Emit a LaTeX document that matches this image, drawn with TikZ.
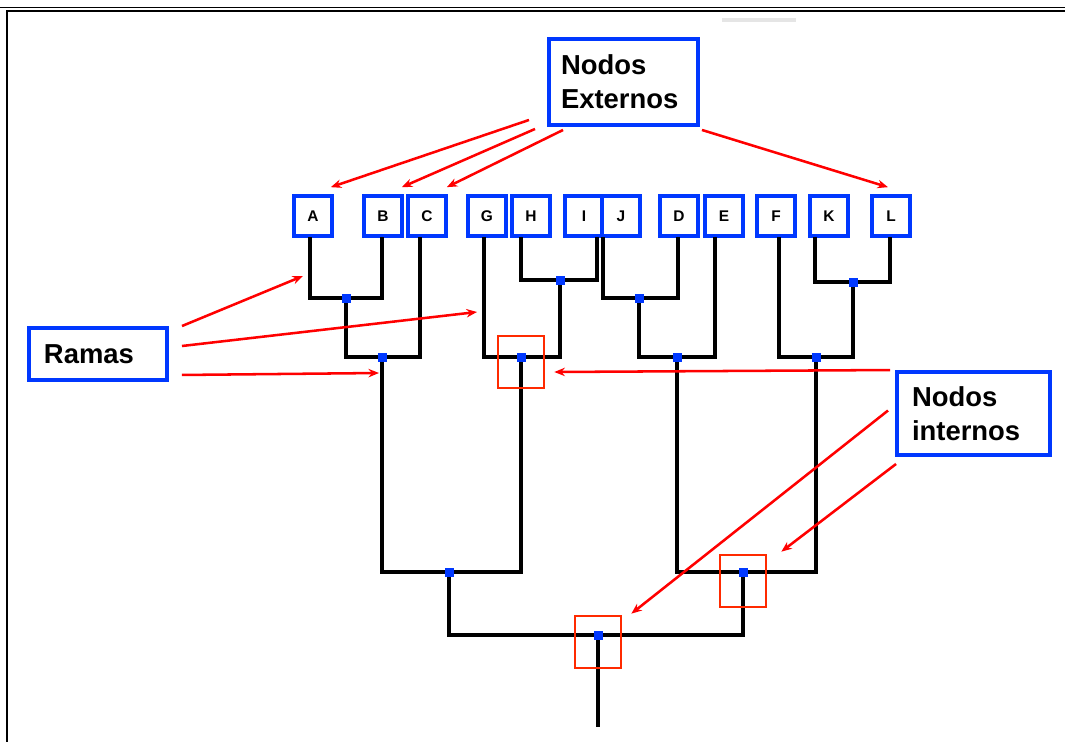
\documentclass[tikz,border=0pt]{standalone}
\usepackage{fontspec}
\setmainfont{Liberation Sans}
\usetikzlibrary{arrows.meta}
\definecolor{TreeBlue}{HTML}{0038FF}
\definecolor{MarkRed}{HTML}{FF2A00}
\definecolor{ArrRed}{HTML}{FF0000}
\newlength{\pxu}
\setlength{\pxu}{0.025cm}
\begin{document}
\begin{tikzpicture}[x=0.025cm,y=-0.025cm,>={Stealth[length=7.5pt,width=6pt]}]
  \tikzstyle{leaf}=[draw=TreeBlue,line width=2.6pt,fill=white,
    minimum width=38\pxu,minimum height=40\pxu,inner sep=0pt,
    font=\fontsize{11}{13}\selectfont\bfseries]
  \tikzstyle{tagbox}=[draw=TreeBlue,line width=2.8pt,fill=white,align=left,
    inner xsep=12\pxu,font=\fontsize{19.5}{24}\selectfont\bfseries]
  \tikzstyle{joint}=[fill=TreeBlue,minimum size=9\pxu,inner sep=0pt]
  \tikzstyle{hilite}=[draw=MarkRed,line width=1.9pt,minimum width=46\pxu,
    minimum height=52\pxu,inner sep=0pt]
  \tikzstyle{branch}=[line width=3.3pt]
  \tikzstyle{arr}=[->,draw=ArrRed,line width=1.8pt]
  \useasboundingbox (0,0) rectangle (1065,742);
  \draw[line width=1.4pt] (0,7.5) -- (1065,7.5);
  \draw[line width=2pt] (1065,11) -- (7,11) -- (7,742);
  \draw[gray!20,line width=3pt] (722,20) -- (796,20);
  \node[tagbox,minimum width=149\pxu,minimum height=86\pxu,text width=125\pxu]
    (ext) at (623.5,82) {Nodos\\Externos};
  \node[tagbox,minimum width=138\pxu,minimum height=52\pxu,text width=108\pxu,
    inner xsep=15\pxu] (ramas) at (98,354) {Ramas};
  \node[tagbox,minimum width=153\pxu,minimum height=83\pxu,text width=123\pxu,
    inner xsep=15\pxu] (int) at (973.5,413.5) {Nodos\\internos};
  \foreach \n/\x/\b in {A/313/310,B/383/382,C/427/420,G/487/484,H/531/521,
      I/584/597,J/621/603,D/679/678,E/724/715,F/776/779,K/829/815,L/891/890}{
    \node[leaf] (\n) at (\x,216) {\n};
    \coordinate (b\n) at (\b,237);
  }
  \coordinate (nAB) at (346,298);
  \coordinate (nHI) at (560,280);
  \coordinate (nJD) at (639,298);
  \coordinate (nKL) at (853,282);
  \coordinate (nABC) at (382,357);
  \coordinate (nGHI) at (521,357);
  \coordinate (nJDE) at (677,357);
  \coordinate (nFKL) at (816,357);
  \coordinate (nLeft) at (449,572);
  \coordinate (nRight) at (743,572);
  \coordinate (nRoot) at (598,635);
  \coordinate (base) at (598,727);
  \draw[branch] (bA) |- (nAB) -| (bB);
  \draw[branch] (nAB) |- (nABC) -| (bC);
  \draw[branch] (bH) |- (nHI) -| (bI);
  \draw[branch] (bG) |- (nGHI) -| (nHI);
  \draw[branch] (bJ) |- (nJD) -| (bD);
  \draw[branch] (nJD) |- (nJDE) -| (bE);
  \draw[branch] (bK) |- (nKL) -| (bL);
  \draw[branch] (bF) |- (nFKL) -| (nKL);
  \draw[branch] (nABC) |- (nLeft) -| (nGHI);
  \draw[branch] (nJDE) |- (nRight) -| (nFKL);
  \draw[branch] (nLeft) |- (nRoot) -| (nRight);
  \draw[branch] (nRoot) -- (base);
  \foreach \j in {nAB,nHI,nJD,nKL,nABC,nGHI,nJDE,nFKL,nLeft,nRight,nRoot}
    \node[joint] (d\j) at (\j) {};
  \node[hilite] (hGHI) at ([yshift=-5\pxu]nGHI) {};
  \node[hilite] (hRight) at ([yshift=-9\pxu]nRight) {};
  \node[hilite] (hRoot) at ([yshift=-7\pxu]nRoot) {};
  \draw[arr] ([xshift=-18\pxu,yshift=7\pxu]ext.south west) -- ([xshift=-3\pxu,yshift=7\pxu]A.north east);
  \draw[arr] ([xshift=-12\pxu,yshift=-2\pxu]ext.south west) -- ([xshift=-2\pxu,yshift=7\pxu]B.north east);
  \draw[arr] ([xshift=16\pxu,yshift=-3\pxu]ext.south west) -- ([xshift=-1\pxu,yshift=7\pxu]C.north east);
  \draw[arr] ([xshift=2\pxu,yshift=-3\pxu]ext.south east) -- ([xshift=-3\pxu,yshift=7\pxu]L.north);
  \draw[arr] ([xshift=13\pxu]ramas.north east) -- ([xshift=-7\pxu,yshift=-39\pxu]bA);
  \draw[arr] ([xshift=13\pxu,yshift=8\pxu]ramas.east) -- ([xshift=-7\pxu,yshift=-75\pxu]bG);
  \draw[arr] ([xshift=13\pxu,yshift=7\pxu]ramas.south east) -- ([xshift=-3\pxu,yshift=-16\pxu]nABC);
  \draw[arr] ([xshift=-5\pxu]int.north west) -- ([xshift=9\pxu,yshift=-10\pxu]hGHI.east);
  \draw[arr] ([xshift=-7\pxu,yshift=3\pxu]int.west) -- ([xshift=9\pxu,yshift=1\pxu]hRoot.north east);
  \draw[arr] ([xshift=1\pxu,yshift=-7\pxu]int.south west) -- ([xshift=14\pxu,yshift=2\pxu]hRight.north east);
\end{tikzpicture}
\end{document}
